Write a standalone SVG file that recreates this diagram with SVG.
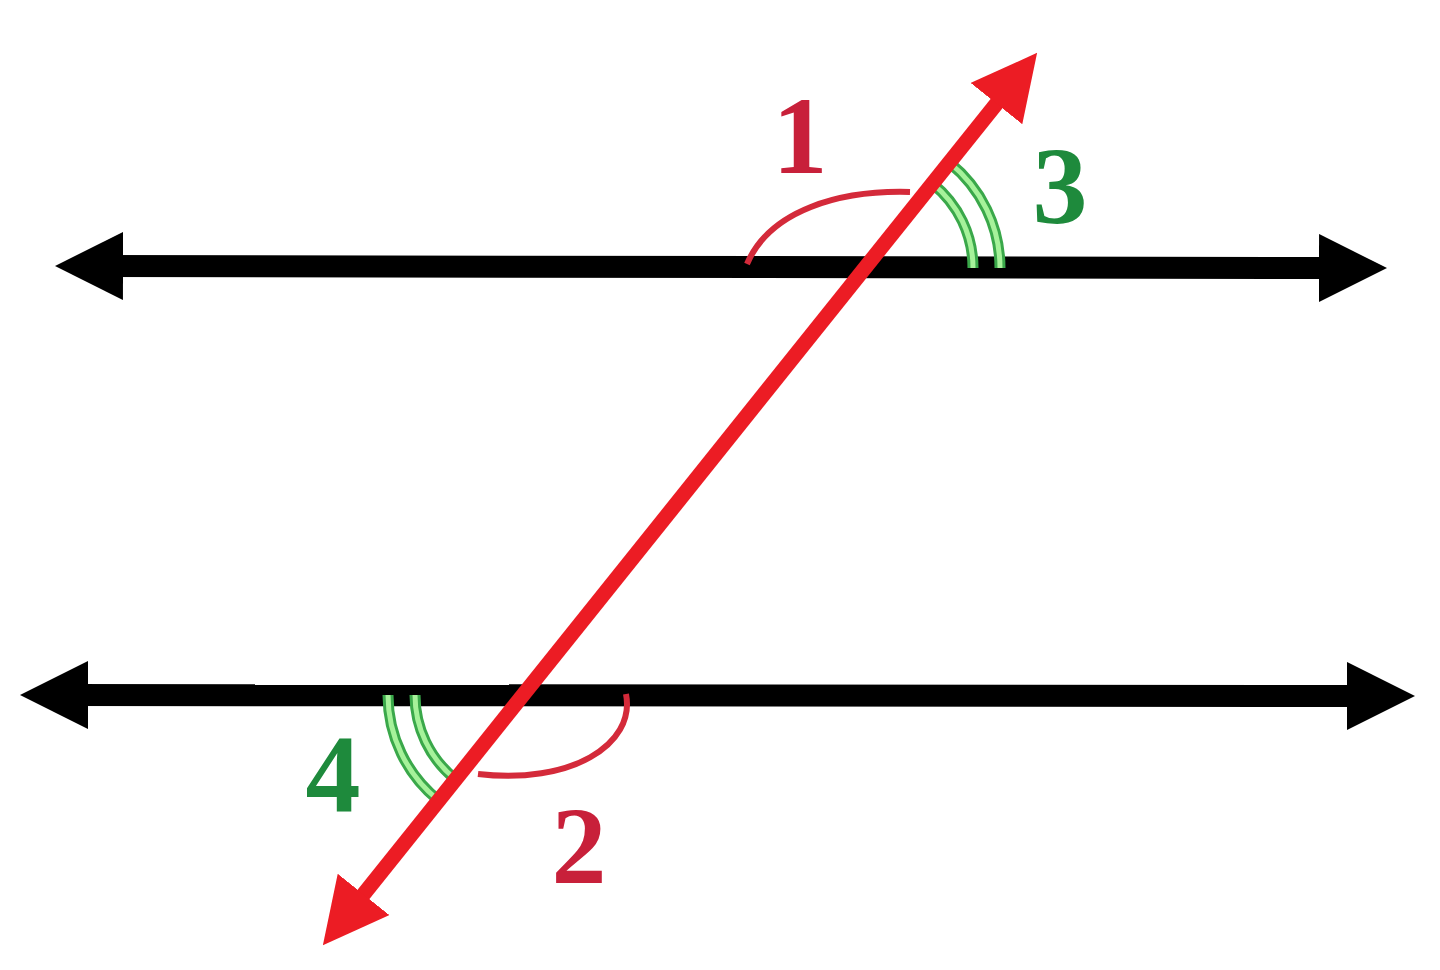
<svg xmlns="http://www.w3.org/2000/svg" width="1440" height="970" viewBox="0 0 1440 970">
<style>
.bl{stroke:#000;stroke-width:22;fill:none;marker-start:url(#hb);marker-end:url(#hb)}
.rl{stroke:#ec1c24;stroke-width:15;fill:none;marker-start:url(#hr);marker-end:url(#hr)}
.ra{stroke:#d42a3a;stroke-width:6;fill:none}
.gd{stroke:#3aa84a;stroke-width:11;fill:none}
.gl{stroke:#a6f29a;stroke-width:5;fill:none}
.lab{font-family:"Liberation Serif","Times New Roman",serif;font-size:110px;font-weight:bold;text-anchor:middle}
.red{fill:#c8203a}
.grn{fill:#1e8a3c}
</style>
<defs>
<marker id="hb" markerUnits="userSpaceOnUse" markerWidth="70" markerHeight="70" refX="20" refY="34" orient="auto-start-reverse" viewBox="0 0 70 70">
<path d="M0,0 L68,34 L0,68 Z" fill="#000"/>
</marker>
<marker id="hr" markerUnits="userSpaceOnUse" markerWidth="68" markerHeight="68" refX="20" refY="33" orient="auto-start-reverse" viewBox="0 0 68 68">
<path d="M0,0 L65,33 L0,66 Z" fill="#ec1c24"/>
</marker>
</defs>
<rect width="1440" height="970" fill="#fff"/>
<g id="lines">
<line id="top-line" class="bl" x1="103" y1="266" x2="1339" y2="268"/>
<line id="bottom-line" class="bl" x1="68" y1="695" x2="1367" y2="696"/>
</g>
<g id="angle-3">
<path class="gd" d="M932.5 183.6 A108 108 0 0 1 973 268"/>
<path class="gl" d="M932.5 183.6 A108 108 0 0 1 973 268"/>
<path class="gd" d="M949.4 162.6 A135 135 0 0 1 1000 268"/>
<path class="gl" d="M949.4 162.6 A135 135 0 0 1 1000 268"/>
</g>
<g id="angle-4">
<path class="gd" d="M415 695 A108 108 0 0 0 455.5 779.3"/>
<path class="gl" d="M415 695 A108 108 0 0 0 455.5 779.3"/>
<path class="gd" d="M388 695 A135 135 0 0 0 438.6 800.4"/>
<path class="gl" d="M388 695 A135 135 0 0 0 438.6 800.4"/>
</g>
<g id="angle-1">
<path class="ra" d="M747 264 C770 210 840 190 910 192"/>
</g>
<g id="angle-2">
<path class="ra" d="M626 694 C636 745 570 785 478 774"/>
</g>
<g id="transversal">
<line class="rl" x1="351" y1="910" x2="1009" y2="88"/>
</g>
<g id="labels">
<text class="lab red" x="800" y="173">1</text>
<text class="lab red" x="579" y="883">2</text>
<text class="lab grn" x="1060" y="223">3</text>
<text class="lab grn" x="333" y="811">4</text>
</g>
</svg>
